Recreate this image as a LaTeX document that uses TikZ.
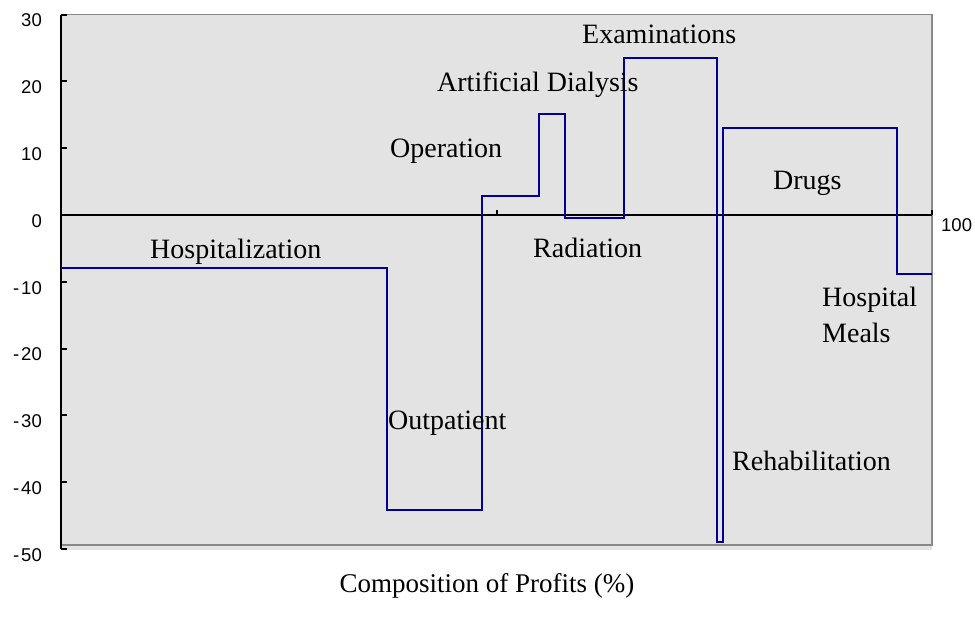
\documentclass[tikz,border=0pt]{standalone}
\usepackage{fontspec}
\setmainfont{Liberation Serif}
\newfontfamily\arialf{Liberation Sans}
\definecolor{plotbg}{HTML}{E3E3E3}
\definecolor{stepblue}{HTML}{000099}
\definecolor{framegray}{HTML}{888888}
\begin{document}
\begin{tikzpicture}[
  lab/.style={anchor=base west, inner sep=0pt, font=\fontsize{28}{30}\selectfont},
  ticklab/.style={anchor=east, inner sep=0pt, font=\arialf\fontsize{18.5}{20}\selectfont},
  stepline/.style={stepblue, line width=2pt, line join=miter},
  axisline/.style={black, line width=2pt},
  frameline/.style={framegray, line width=1.5pt}
]
\useasboundingbox (0,0) rectangle (975pt,622pt);
\begin{scope}[shift={(61pt,407pt)}, x=8.71pt, y=6.68pt]
  % background
  \fill[plotbg] (0,-50.1) rectangle (100,30);
  \draw[frameline] (0,30) -- (100,30) -- (100,-49.4) -- (0,-49.4);
  % axes
  \draw[axisline] (0,30) -- (0,-50);
  \foreach \v in {30,20,...,-50} {
    \draw[axisline] (0,\v) -- (0.7,\v);
    \node[ticklab] at ([xshift=-19pt,yshift=-6pt]0,\v) {\ifnum\v<0 -\kern2pt\the\numexpr-\v\relax\else\v\fi};
  }
  \draw[axisline] (0,0) -- (100,0);
  \draw[axisline] (50,0) -- (50,0.8);
  \draw[axisline] (100,0) -- (100,0.8);
  \node[ticklab, anchor=west] at ([xshift=9pt,yshift=-10pt]100,0) {100};
  % step line
  \draw[stepline] (0,-8) -- (37.43,-8) -- (37.43,-44.2) -- (48.34,-44.2)
    -- (48.34,2.8) -- (54.9,2.8) -- (54.9,15.1) -- (57.86,15.1)
    -- (57.86,-0.4) -- (64.64,-0.4) -- (64.64,23.5) -- (75.35,23.5)
    -- (75.35,-49) -- (76.03,-49) -- (76.03,13) -- (95.98,13)
    -- (95.98,-8.9) -- (100,-8.9);
\end{scope}
% labels
\node[lab] (hosp) at (150pt,363pt) {Hospitalization};
\node[lab] (outp) at (388pt,193pt) {Outpatient};
\node[lab] (oper) at (390pt,464pt) {Operation};
\node[lab] (dial) at (437pt,530pt) {Artificial Dialysis};
\node[lab] (exam) at (582pt,578pt) {Examinations};
\node[lab] (radi) at (533pt,364pt) {Radiation};
\node[lab] (drug) at (773pt,432pt) {Drugs};
\node[lab] (meal1) at (822pt,315pt) {Hospital};
\node[lab] (meal2) at (822pt,279pt) {Meals};
\node[lab] (rehab) at (732pt,152pt) {Rehabilitation};
\node[lab, anchor=base, font=\fontsize{27}{29}\selectfont] (title) at (487pt,30pt) {Composition of Profits (\%)};
\end{tikzpicture}
\end{document}
